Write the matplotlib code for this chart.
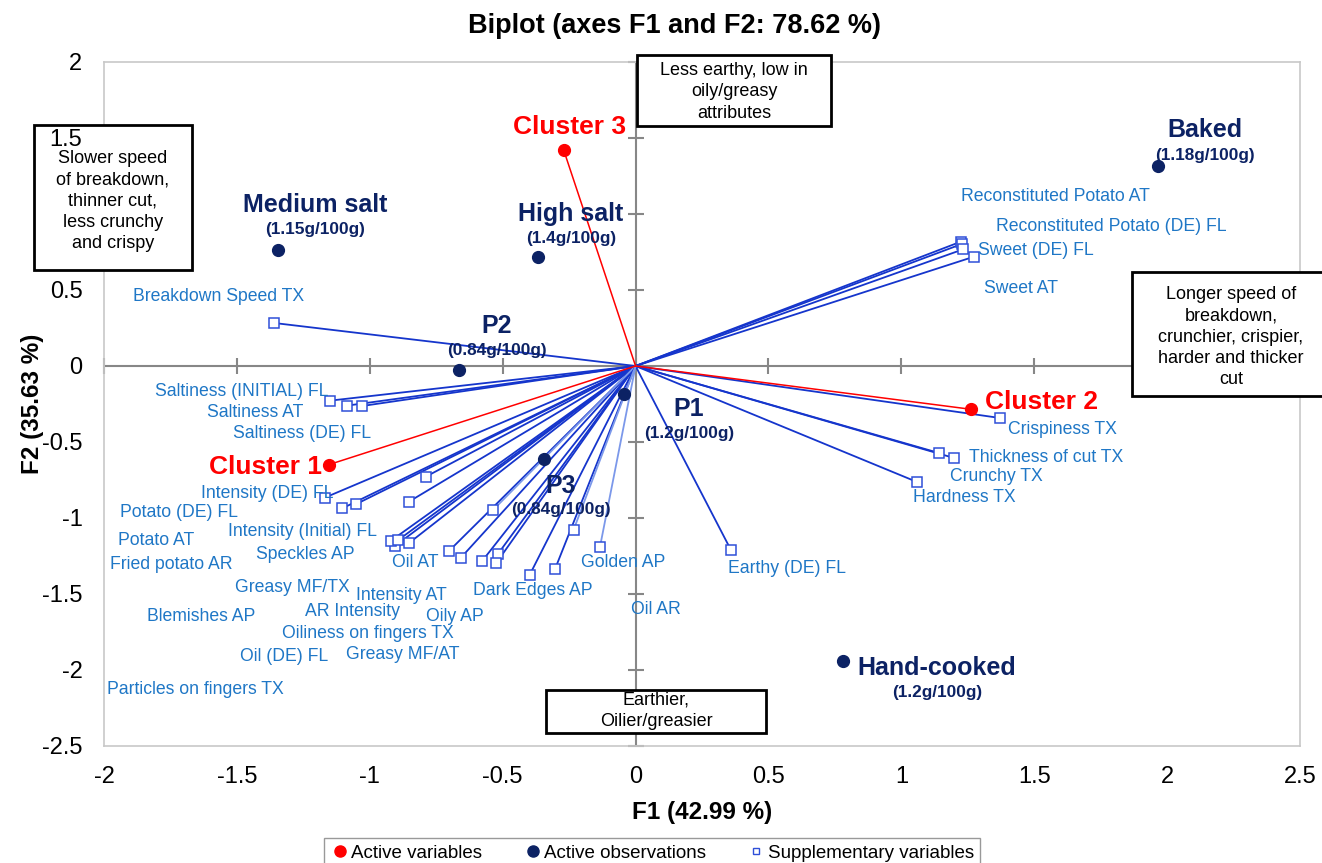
import matplotlib
matplotlib.use("Agg")
import matplotlib.pyplot as plt
from matplotlib.patches import Rectangle
from matplotlib.lines import Line2D

plt.rcParams['font.family'] = ['Liberation Sans', 'DejaVu Sans']

# active variables (clusters)
clusters = ['Cluster 1', 'Cluster 2', 'Cluster 3']
cl_x = [-1.154, 1.263, -0.271]
cl_y = [-0.649, -0.285, 1.424]

# active observations (products)
products = ['Baked', 'Medium salt', 'High salt', 'P2', 'P1', 'P3', 'Hand-cooked']
salt = ['(1.18g/100g)', '(1.15g/100g)', '(1.4g/100g)', '(0.84g/100g)',
        '(1.2g/100g)', '(0.84g/100g)', '(1.2g/100g)']
obs_x = [1.965, -1.345, -0.367, -0.664, -0.043, -0.345, 0.780]
obs_y = [1.316, 0.763, 0.717, -0.026, -0.186, -0.614, -1.941]

# supplementary variables (sensory attributes)
attributes = ['Reconstituted Potato AT', 'Reconstituted Potato (DE) FL', 'Sweet (DE) FL',
              'Sweet AT', 'Breakdown Speed TX', 'Saltiness (INITIAL) FL', 'Saltiness AT',
              'Saltiness (DE) FL', 'Crispiness TX', 'Thickness of cut TX', 'Crunchy TX',
              'Hardness TX', 'Earthy (DE) FL', 'Intensity (DE) FL', 'Potato (DE) FL',
              'Potato AT', 'Fried potato AR', 'Intensity (Initial) FL', 'Speckles AP',
              'Oil AT', 'Greasy MF/TX', 'Intensity AT', 'AR Intensity', 'Blemishes AP',
              'Oily AP', 'Oiliness on fingers TX', 'Oil (DE) FL', 'Greasy MF/AT',
              'Particles on fingers TX', 'Dark Edges AP', 'Golden AP', 'Oil AR']
sup_x = [1.224, 1.228, 1.233, 1.273, -1.360, -1.150, -1.087, -1.028, 1.371, 1.141,
         1.198, 1.059, 0.359, -1.169, -1.103, -1.053, -0.905, -0.853, -0.789, -0.702,
         -0.920, -0.658, -0.893, -0.851, -0.578, -0.518, -0.524, -0.535, -0.398,
         -0.303, -0.134, -0.233]
sup_y = [0.818, 0.803, 0.768, 0.719, 0.283, -0.228, -0.261, -0.263, -0.342, -0.572,
         -0.605, -0.763, -1.211, -0.866, -0.936, -0.910, -1.184, -0.893, -0.728, -1.217,
         -1.149, -1.263, -1.145, -1.163, -1.285, -1.237, -1.296, -0.945, -1.373,
         -1.336, -1.191, -1.077]

# where each attribute name sits (left edge, vertical centre)
lab_x = [1.224, 1.356, 1.288, 1.311, -1.891, -1.808, -1.613, -1.515, 1.401, 1.255,
         1.183, 1.044, 0.348, -1.635, -1.940, -1.947, -1.977, -1.533, -1.428, -0.917,
         -1.507, -1.052, -1.244, -1.838, -0.789, -1.330, -1.488, -1.090, -1.989,
         -0.612, -0.206, -0.017]
lab_y = [1.118, 0.921, 0.757, 0.507, 0.454, -0.171, -0.303, -0.441, -0.421, -0.599,
         -0.724, -0.868, -1.329, -0.842, -0.967, -1.145, -1.309, -1.086, -1.237, -1.296,
         -1.454, -1.513, -1.612, -1.645, -1.645, -1.757, -1.908, -1.895, -2.125,
         -1.480, -1.296, -1.605]
light = ['Greasy MF/AT', 'Golden AP', 'Oil AR']

obs_lab = [(2.142, 1.553, 1.382), (-1.206, 1.059, 0.895), (-0.243, 1.0, 0.836),
           (-0.521, 0.263, 0.105), (0.201, -0.283, -0.447), (-0.281, -0.789, -0.947),
           (1.134, -1.987, -2.145)]

RED = '#ff0000'
NAVY = '#0c2264'
BLUE = '#1535cc'
LBLUE = '#7b98ea'
TXT = '#1f77c6'
W, H = 1322, 863

fig = plt.figure(figsize=(13.22, 8.63), dpi=100)
ax = fig.add_axes([104/W, 117/H, 1196/W, 684/H])
ax.set_xlim(-2, 2.5)
ax.set_ylim(-2.5, 2)

for s in ax.spines.values():
    s.set_color('#c8c8c8')
    s.set_linewidth(1.2)

xt = [-2, -1.5, -1, -0.5, 0, 0.5, 1, 1.5, 2, 2.5]
yt = [-2.5, -2, -1.5, -1, -0.5, 0, 0.5, 1, 1.5, 2]
ax.set_xticks(xt)
ax.set_xticklabels(['-2', '-1.5', '-1', '-0.5', '0', '0.5', '1', '1.5', '2', '2.5'])
ax.set_yticks(yt)
# the "1" label sits under the left-hand box
ax.set_yticklabels(['-2.5', '-2', '-1.5', '-1', '-0.5', '0', '0.5', '', '1.5', '2'])
ax.tick_params(length=0, labelsize=17, pad=15.5)
ax.tick_params(axis='x', pad=14.5)
ax.yaxis.set_zorder(8)

# centre axes with cross ticks
ax.axhline(0, color='#878787', lw=1.5, zorder=1)
ax.axvline(0, color='#878787', lw=1.5, zorder=1)
ax.plot([0] * len(yt), yt, ls='none', marker='_', ms=11, mew=1.5, color='#878787',
        zorder=1, clip_on=False)
ax.plot(xt, [0] * len(xt), ls='none', marker='|', ms=11, mew=1.5, color='#878787',
        zorder=1, clip_on=False)

# supplementary vectors
for i, name in enumerate(attributes):
    c = LBLUE if name in light else BLUE
    ax.plot([0, sup_x[i]], [0, sup_y[i]], color=c, lw=1.3, zorder=2)
ax.plot(sup_x, sup_y, ls='none', marker='s', ms=6.5, mfc='white', mec='#2f4fd8',
        mew=1.1, zorder=4)
for i, name in enumerate(attributes):
    ax.text(lab_x[i], lab_y[i], name, color=TXT, fontsize=12.7, ha='left',
            va='center', zorder=5)

# active variable vectors
for i, name in enumerate(clusters):
    ax.plot([0, cl_x[i]], [0, cl_y[i]], color=RED, lw=1.1, zorder=3)
ax.plot(cl_x, cl_y, ls='none', marker='o', ms=8.5, color=RED, zorder=5)
ax.text(-1.180, -0.664, 'Cluster 1', color=RED, fontsize=19, fontweight='bold',
        ha='right', va='center')
ax.text(1.315, -0.237, 'Cluster 2', color=RED, fontsize=19, fontweight='bold',
        ha='left', va='center')
ax.text(-0.250, 1.572, 'Cluster 3', color=RED, fontsize=19, fontweight='bold',
        ha='center', va='center')

# observations
ax.plot(obs_x, obs_y, ls='none', marker='o', ms=8.5, color=NAVY, zorder=5)
for i, name in enumerate(products):
    lx, ly1, ly2 = obs_lab[i]
    ax.text(lx, ly1, name, color=NAVY, fontsize=18, fontweight='bold',
            ha='center', va='center')
    ax.text(lx, ly2, salt[i], color=NAVY, fontsize=12.4, fontweight='bold',
            ha='center', va='center')

fig.text(675 / W, 1 - 26 / H, 'Biplot (axes F1 and F2: 78.62 %)', fontsize=19.5,
         fontweight='bold', ha='center', va='center')
fig.text(702 / W, 1 - 812 / H, 'F1 (42.99 %)', fontsize=17.5, fontweight='bold',
         ha='center', va='center')
fig.text(32 / W, 1 - 404 / H, 'F2 (35.63 %)', fontsize=17.5, fontweight='bold',
         ha='center', va='center', rotation=90)

# interpretation boxes (pixel extents: left, top, right, bottom, text centre y)
boxes = [((637, 55, 831, 126, 92), 'Less earthy, low in\noily/greasy\nattributes'),
         ((34, 125, 192, 270, 201), 'Slower speed\nof breakdown,\nthinner cut,\nless crunchy\nand crispy'),
         ((1132, 272, 1330, 396, 337), 'Longer speed of\nbreakdown,\ncrunchier, crispier,\nharder and thicker\ncut'),
         ((546, 690, 766, 733, 711), 'Earthier,\nOilier/greasier')]
for (l, t, r, b, cy), txt in boxes:
    ax.add_patch(Rectangle((l / W, 1 - b / H), (r - l) / W, (b - t) / H,
                           transform=fig.transFigure, facecolor='white',
                           edgecolor='black', lw=2, zorder=6, clip_on=False))
    ax.text((l + r) / 2 / W, 1 - cy / H, txt, transform=fig.transFigure,
            fontsize=13, ha='center', va='center', linespacing=1.32, zorder=7,
            clip_on=False)

handles = [Line2D([], [], ls='none', marker='o', ms=8, color=RED),
           Line2D([], [], ls='none', marker='o', ms=8, color=NAVY),
           Line2D([], [], ls='none', marker='s', ms=5, mfc='white', mec='#2f4fd8', mew=1)]
leg = fig.legend(handles, ['Active variables', 'Active observations', 'Supplementary variables'],
                 loc='upper center', bbox_to_anchor=(652 / W, 1 - 838 / H), ncol=3,
                 fontsize=13.5, frameon=True, fancybox=False, handletextpad=0.1,
                 columnspacing=2.2, handlelength=1.0, borderpad=0.35, borderaxespad=0)
leg.get_frame().set_edgecolor('#808080')
leg.get_frame().set_linewidth(1)

fig.savefig('out.png', dpi=100)
